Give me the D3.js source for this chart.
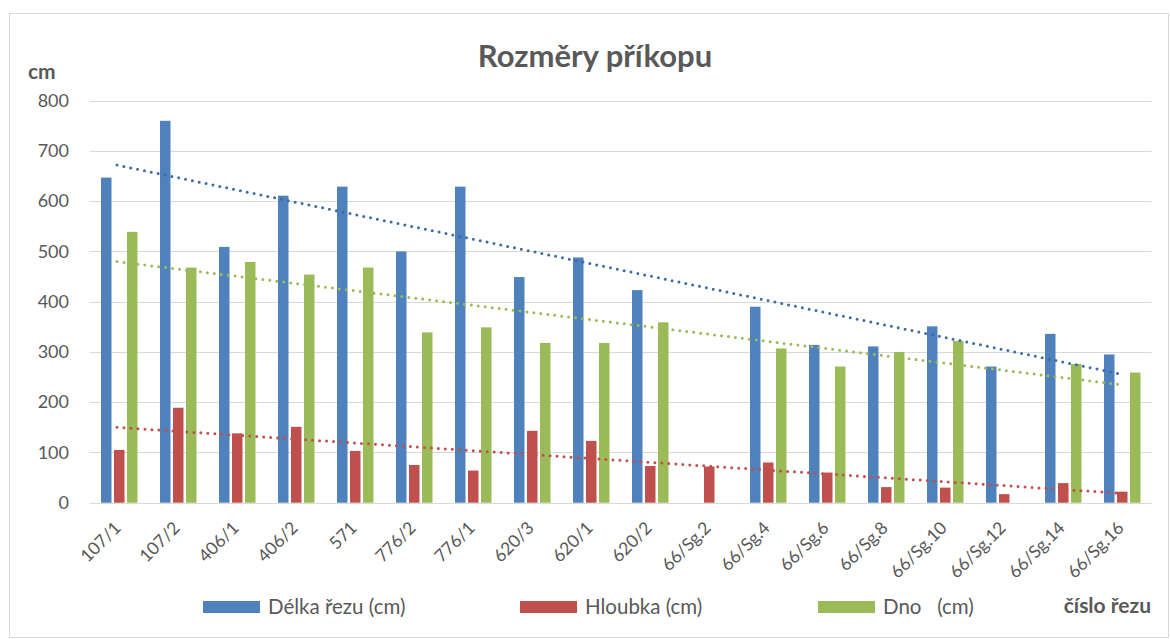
<!DOCTYPE html>
<html><head><meta charset="utf-8">
<script src="https://cdn.jsdelivr.net/npm/d3@7"></script>
<style>
html,body{margin:0;padding:0;background:#fff;}
text{font-family:Lato,"Open Sans",sans-serif;}
</style></head>
<body><svg id="c" width="1170" height="639"></svg>
<script>
const categories = ["107/1","107/2","406/1","406/2","571","776/2","776/1","620/3","620/1","620/2","66/Sg.2","66/Sg.4","66/Sg.6","66/Sg.8","66/Sg.10","66/Sg.12","66/Sg.14","66/Sg.16"];
const delka  = [647,760,509,611,629,500,629,449,488,423,null,390,314,311,351,271,336,295];
const hloubka= [105,189,138,151,103,75,64,143,123,73,72,80,60,31,30,17,39,22];
const dno    = [539,468,479,454,468,339,349,318,318,359,null,307,271,300,322,null,276,259];
const seriesNames = ["Délka řezu (cm)","Hloubka (cm)","Dno   (cm)"];
const yTicks = [0,100,200,300,400,500,600,700,800];
const colors = ["#4f81bd","#c0504d","#9bbb59"];
const trendColors = ["#3d6ba3","#c0504d","#9bbb59"];

const svg = d3.select("#c");
svg.append("rect").attr("x",9.5).attr("y",13.5).attr("width",1159).attr("height",624)
  .attr("fill","#fff").attr("stroke","#d9d9d9");

const x = d3.scaleBand().domain(categories).range([89.5,1151.5]).padding(0);
const y = d3.scaleLinear().domain([0,800]).range([502.7,100.7]);

// gridlines
svg.append("g").selectAll("line").data(yTicks).join("line")
  .attr("x1",89.5).attr("x2",1151.5)
  .attr("y1",d=>Math.round(y(d))+0.5).attr("y2",d=>Math.round(y(d))+0.5)
  .attr("stroke","#d9d9d9").attr("stroke-width",1.2);

// y axis labels
const yAxis = d3.axisLeft(y).tickValues(yTicks).tickSize(0).tickPadding(0);
const ga = svg.append("g").attr("transform","translate(69,0)").call(yAxis);
ga.select(".domain").remove();
ga.selectAll("text").attr("font-size",18).attr("fill","#595959").attr("font-family","Lato, sans-serif");

// bars
const data = [delka,hloubka,dno];
const barW = 10.5, offs = [-18,-5,8];
data.forEach((vals,si)=>{
  svg.append("g").selectAll("rect").data(vals.map((v,i)=>({v,c:categories[i]})).filter(d=>d.v!=null))
    .join("rect")
    .attr("x",d=>x(d.c)+x.bandwidth()/2+offs[si])
    .attr("width",barW)
    .attr("y",d=>y(d.v)).attr("height",d=>y(0)-y(d.v))
    .attr("fill",colors[si]);
});

// trendlines (linear least squares over available points)
data.forEach((vals,si)=>{
  const pts = vals.map((v,i)=>[i+1,v]).filter(p=>p[1]!=null);
  const mx=d3.mean(pts,p=>p[0]), my=d3.mean(pts,p=>p[1]);
  const b = d3.sum(pts,p=>(p[0]-mx)*(p[1]-my))/d3.sum(pts,p=>(p[0]-mx)**2);
  const a = my-b*mx;
  const xs=[1,categories.length];
  svg.append("line")
    .attr("x1",x(categories[0])+x.bandwidth()/2-2).attr("y1",y(a+b*xs[0]))
    .attr("x2",x(categories[categories.length-1])+x.bandwidth()/2+2).attr("y2",y(a+b*xs[1]))
    .attr("stroke",trendColors[si]).attr("stroke-width",3)
    .attr("stroke-linecap","round").attr("stroke-dasharray","0 7");
});

// x labels
svg.append("g").selectAll("text").data(categories).join("text")
  .attr("transform",d=>`translate(${x(d)+x.bandwidth()/2+3},${529}) rotate(-45)`)
  .attr("text-anchor","end").attr("font-size",17.5).attr("fill","#595959")
  .text(d=>d);

// title and axis titles
svg.append("text").attr("x",595).attr("y",67).attr("text-anchor","middle")
  .attr("font-size",31).attr("font-weight","bold").attr("fill","#595959").text("Rozměry příkopu");
svg.append("text").attr("x",28).attr("y",79).attr("font-size",21).attr("font-weight","bold")
  .attr("fill","#595959").text("cm");
svg.append("text").attr("x",1151).attr("y",613).attr("text-anchor","end").attr("font-size",21)
  .attr("font-weight","bold").attr("fill","#595959").text("číslo řezu");

// legend
const legX = [203,520,818];
seriesNames.forEach((n,i)=>{
  svg.append("rect").attr("x",legX[i]).attr("y",601).attr("width",57).attr("height",12).attr("fill",colors[i]);
  svg.append("text").attr("x",legX[i]+65).attr("y",614).attr("font-size",20.5).attr("fill","#595959")
    .style("white-space","pre").attr("xml:space","preserve").text(n);
});
</script></body></html>
